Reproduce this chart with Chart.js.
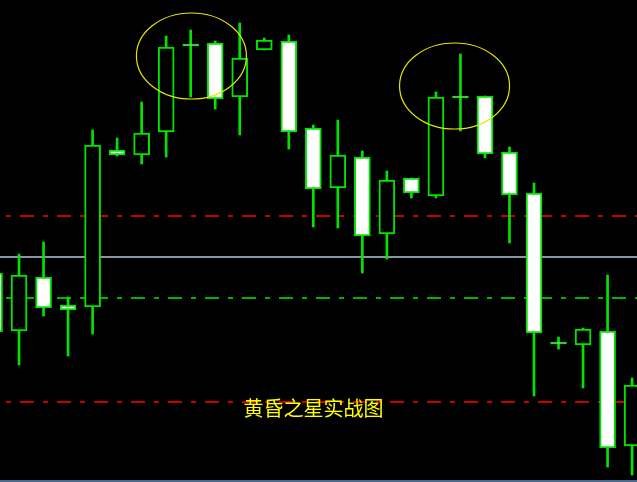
<!DOCTYPE html>
<html>
<head>
<meta charset="utf-8">
<script src="https://cdn.jsdelivr.net/npm/chart.js@4/dist/chart.umd.min.js"></script>
<style>
html,body{margin:0;padding:0;background:#000;overflow:hidden;}
canvas{display:block;}
</style>
</head>
<body>
<canvas id="c" width="637" height="482"></canvas>
<script>
// Candle index labels
const categories = ['K1','K2','K3','K4','K5','K6','K7','K8','K9','K10','K11','K12','K13','K14','K15','K16','K17','K18','K19','K20','K21','K22','K23','K24','K25','K26','K27'];
// OHLC series (price points)
const opens  = [209,151,205,177,175,332,327,350,438,439,385,432,441,354,294,325,248,304,286,386,386,330,289,140,137,151, 36];
const highs  = [215,228,240,185,352,344,380,446,452,441,459,444,447,357,362,331,311,304,390,428,386,335,299,145,154,207,104];
const lows   = [145,117,166,126,148,326,318,325,385,373,347,432,333,255,254,209,223,284,284,351,324,239, 86,133, 94, 15,  7];
const closes = [150,207,174,172,337,327,349,435,436,383,424,442,350,293,327,246,302,289,385,384,328,287,149,138,153, 34, 97];
// Reference levels
const levelValues = [266, 225, 184, 80];
const levelKinds  = ['red','gray','green','red'];
// Highlighted patterns (evening star areas): candle index, price
const highlightIdx   = [8.03, 18.76];
const highlightPrice = [426, 396];
const caption = '黄昏之星实战图';

const GREEN = '#00e400';
const wickData = categories.map((c,i)=>({x:i, y:[lows[i], highs[i]]}));
const bodyData = categories.map((c,i)=>({x:i, y:[opens[i], closes[i]]}));
const bodyFill = categories.map((c,i)=> closes[i] >= opens[i] ? '#000000' : '#ffffff');

const levelStyle = {
  red:   {color:'#c80000', dash:[14,9,5,9], width:2},
  gray:  {color:'#8a96a4', dash:[], width:2},
  green: {color:'#00b400', dash:[14,9,5,9], width:2}
};

const overlayPlugin = {
  id: 'overlay',
  beforeDatasetsDraw(chart) {
    const {ctx, chartArea, scales:{y}} = chart;
    ctx.save();
    levelValues.forEach((v,k)=>{
      const st = levelStyle[levelKinds[k]];
      const py = Math.round(y.getPixelForValue(v));
      ctx.beginPath();
      ctx.strokeStyle = st.color;
      ctx.lineWidth = st.width;
      ctx.setLineDash(st.dash);
      ctx.lineDashOffset = 17;
      ctx.moveTo(chartArea.left, py);
      ctx.lineTo(chartArea.right, py);
      ctx.stroke();
    });
    ctx.restore();
  },
  afterDatasetsDraw(chart) {
    const {ctx, chartArea, scales:{x,y}} = chart;
    ctx.save();
    ctx.strokeStyle = '#e6e600';
    ctx.lineWidth = 1.2;
    ctx.setLineDash([]);
    highlightIdx.forEach((xi,k)=>{
      const cx = x.getPixelForValue(xi);
      const cy = y.getPixelForValue(highlightPrice[k]);
      ctx.beginPath();
      ctx.ellipse(cx, cy, 55, 43, 0, 0, Math.PI*2);
      ctx.stroke();
    });
    // caption
    ctx.fillStyle = '#ffff00';
    ctx.font = '20px "Noto Sans CJK SC", sans-serif';
    ctx.textAlign = 'center';
    ctx.textBaseline = 'middle';
    ctx.fillText(caption, (chartArea.left+chartArea.right)/2 - 5, y.getPixelForValue(74));
    // bottom frame line
    ctx.strokeStyle = '#4a6890';
    ctx.lineWidth = 2;
    ctx.beginPath();
    ctx.moveTo(chartArea.left, chartArea.bottom - 1);
    ctx.lineTo(chartArea.right, chartArea.bottom - 1);
    ctx.stroke();
    ctx.restore();
  }
};

new Chart(document.getElementById('c'), {
  type: 'bar',
  data: {
    labels: categories,
    datasets: [
      {
        label: 'body',
        data: bodyData,
        backgroundColor: bodyFill,
        borderColor: GREEN,
        borderWidth: 2,
        borderSkipped: false,
        barThickness: 16,
        grouped: false,
        order: 0
      },
      {
        label: 'wick',
        data: wickData,
        backgroundColor: GREEN,
        borderWidth: 0,
        borderSkipped: false,
        barThickness: 2,
        grouped: false,
        order: 1
      }
    ]
  },
  options: {
    responsive: false,
    animation: false,
    events: [],
    layout: {padding: 0},
    plugins: {legend: {display:false}, tooltip: {enabled:false}, title:{display:false}},
    scales: {
      x: {type:'linear', min:0.224, max:26.2, display:false, offset:false},
      y: {type:'linear', min:0, max:482, display:false}
    }
  },
  plugins: [overlayPlugin]
});
</script>
</body>
</html>
